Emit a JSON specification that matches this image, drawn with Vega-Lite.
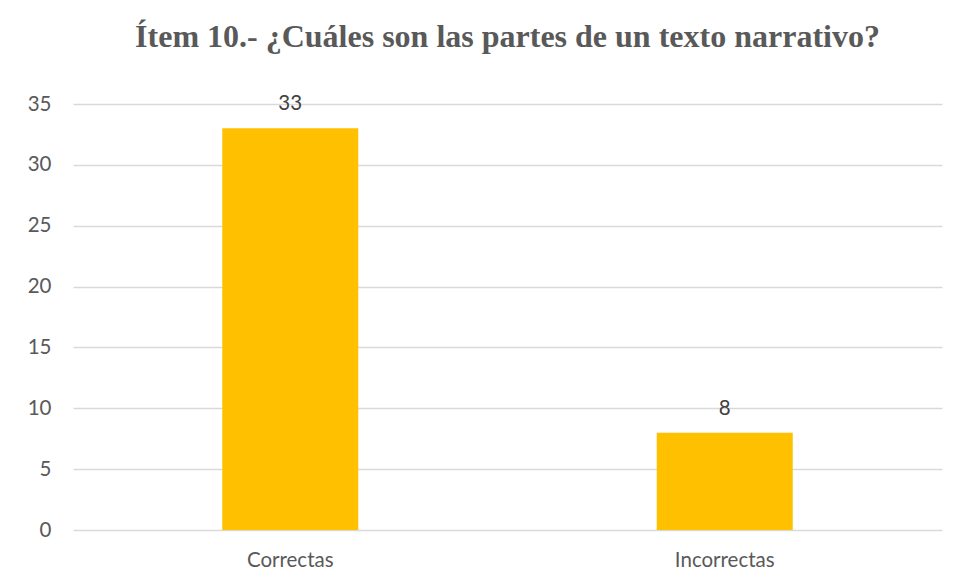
{
  "$schema": "https://vega.github.io/schema/vega-lite/v6.json",
  "width": 869,
  "height": 426,
  "autosize": {"type": "none"},
  "padding": {"left": 73, "top": 104, "right": 15, "bottom": 54},
  "background": "white",
  "title": {
    "text": "Ítem 10.- ¿Cuáles son las partes de un texto narrativo?",
    "font": "Liberation Serif",
    "fontSize": 32,
    "fontWeight": "bold",
    "color": "#595959",
    "anchor": "middle",
    "frame": "group",
    "offset": 40
  },
  "data": {
    "values": [
      {"categoria": "Correctas", "valor": 33},
      {"categoria": "Incorrectas", "valor": 8}
    ]
  },
  "encoding": {
    "x": {
      "field": "categoria",
      "type": "nominal",
      "sort": null,
      "scale": {"paddingInner": 0, "paddingOuter": 0},
      "axis": {
        "title": null,
        "labelAngle": 0,
        "labelFont": "Lato",
        "labelFontSize": 20.5,
        "labelColor": "#595959",
        "labelPadding": 20,
        "ticks": false,
        "domain": false,
        "grid": false
      }
    },
    "y": {
      "field": "valor",
      "type": "quantitative",
      "scale": {"domain": [0, 35], "nice": false},
      "axis": {
        "title": null,
        "values": [0, 5, 10, 15, 20, 25, 30, 35],
        "labelFont": "Lato",
        "labelFontSize": 20.5,
        "labelColor": "#595959",
        "labelPadding": 22,
        "ticks": false,
        "domain": false,
        "grid": true,
        "gridColor": "#d9d9d9",
        "gridWidth": 1.5
      }
    }
  },
  "layer": [
    {"mark": {"type": "bar", "color": "#FFC000", "width": {"band": 0.313}}},
    {
      "mark": {
        "type": "text",
        "baseline": "bottom",
        "dy": -14,
        "font": "Lato",
        "fontSize": 20.5,
        "color": "#404040"
      },
      "encoding": {"text": {"field": "valor", "type": "quantitative"}}
    }
  ],
  "config": {"view": {"stroke": null}}
}
